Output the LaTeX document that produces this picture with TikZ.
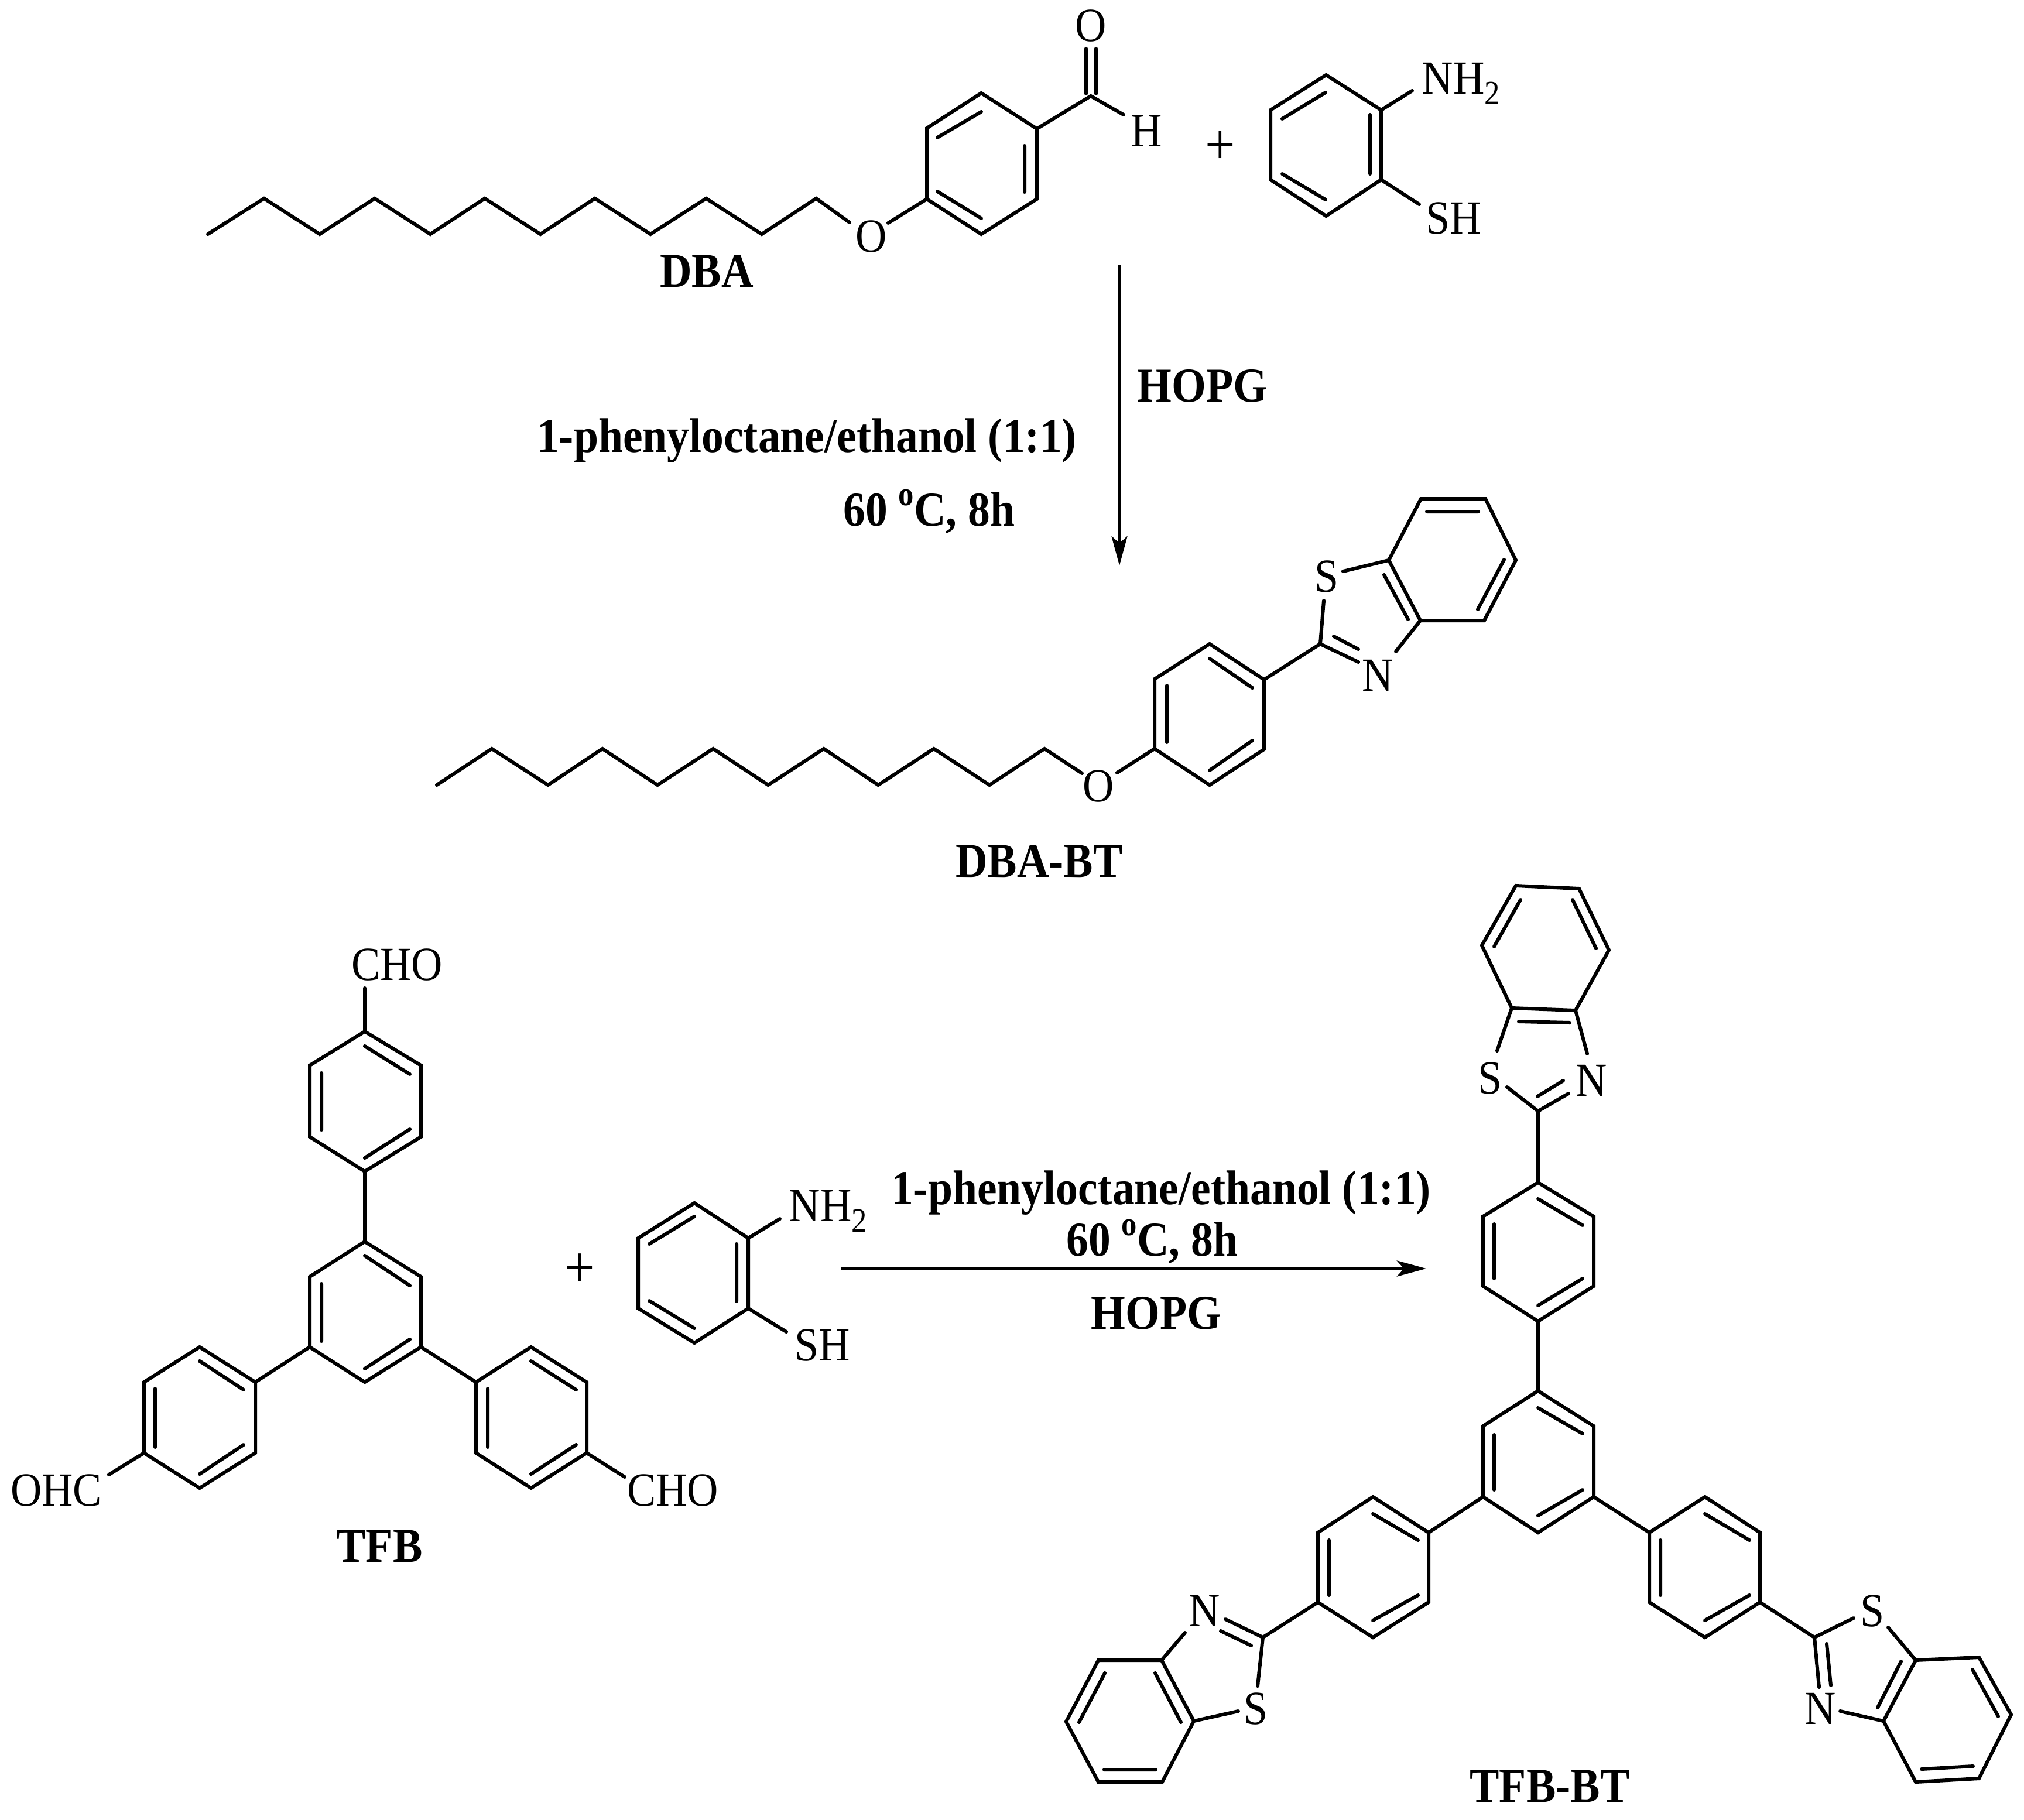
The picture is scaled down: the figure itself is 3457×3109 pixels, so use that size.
\documentclass[tikz,border=0pt]{standalone}
\usepackage{fontspec}
\setmainfont{Liberation Serif}
\usetikzlibrary{arrows.meta}
\tikzset{
  bond/.style={line width=0.06cm,line cap=round,line join=miter},
  reaction/.style={line width=0.055cm,-{Stealth[length=0.5cm,width=0.27cm,inset=0.12cm]}},
  atom/.style={inner sep=0pt,transform shape,yscale=1.1,font=\fontsize{21}{21}\selectfont,text height=13.9pt,text depth=0pt},
  cond/.style={atom,font=\fontsize{21.5}{21.5}\selectfont\bfseries},
  plussign/.style={atom,font=\fontsize{26}{26}\selectfont}
}
\newcommand{\subtwo}{\raisebox{-0.22em}{\fontsize{15}{15}\selectfont 2}}
\newcommand{\supo}{\raisebox{0.42em}{\fontsize{15}{15}\selectfont\bfseries o}}
\begin{document}
\begin{tikzpicture}[x=0.01cm,y=-0.01cm]
\useasboundingbox (0,0) rectangle (3457,3109);

% ---------- DBA
\draw[bond] (355,400) -- (451,339) -- (546,400) -- (640,339) -- (735,400) -- (828,339) -- (923,400) -- (1016,339) -- (1111,400) -- (1206,339) -- (1301,400) -- (1394,339) -- (1451,380);
\node[atom] (oa) at (1488,404) {O};
\draw[bond] (1517,381) -- (1583,340);
\draw[bond] (1583,340) -- (1583,219) -- (1676,159) -- (1771,220) -- (1771,340) -- (1676,400) -- cycle;
\draw[bond] (1601,235) -- (1676,191) (1750,249) -- (1750,328) (1601,327) -- (1676,373);
\draw[bond] (1771,220) -- (1863,164) -- (1919,196);
\draw[bond] (1855,160) -- (1855,83) (1872,160) -- (1872,83);
\node[atom] (oc) at (1863,44) {O};
\node[atom] (hc) at (1958,224) {H};
\node[plussign] (plusa) at (2084,254) {+};
\node[cond] (dba) at (1207,464) {DBA};

% ---------- aminothiophenol 1
\draw[bond] (2359,188) -- (2359,307) -- (2265,369) -- (2170,307) -- (2170,188) -- (2265,128) -- cycle;
\draw[bond] (2340,196) -- (2340,297) (2190,203) -- (2264,158) (2190,297) -- (2264,341);
\draw[bond] (2359,188) -- (2412,155) (2359,307) -- (2424,349);
\node[atom,anchor=west] (nha) at (2428,134) {NH\subtwo};
\node[atom,anchor=west] (sha) at (2435,373) {SH};

% ---------- reaction 1
\coordinate (ra) at (1912,453);
\coordinate (rb) at (1912,966);
\draw[reaction] (ra) -- (rb);
\node[cond] (hopga) at (2054,660) {HOPG};
\node[cond] (solva) at (1378,746) {1-phenyloctane/ethanol (1:1)};
\node[cond] (tempa) at (1587,872) {60 \supo C, 8h};

% ---------- DBA-BT
\draw[bond] (746,1341) -- (840,1279) -- (936,1341) -- (1029,1279) -- (1123,1341) -- (1218,1279) -- (1312,1341) -- (1407,1279) -- (1500,1341) -- (1595,1279) -- (1690,1341) -- (1784,1279) -- (1848,1321);
\node[atom] (ob) at (1876,1343) {O};
\draw[bond] (1908,1320) -- (1972,1279);
\draw[bond] (1972,1279) -- (1972,1160) -- (2066,1100) -- (2159,1161) -- (2159,1280) -- (2066,1341) -- cycle;
\draw[bond] (1993,1171) -- (1993,1268) (2066,1125) -- (2139,1175) (2066,1316) -- (2139,1265);
\draw[bond] (2159,1161) -- (2255,1100) -- (2261,1026);
\draw[bond] (2255,1100) -- (2320,1131) (2278,1087) -- (2320,1109);
\node[atom] (sb) at (2266,985) {S};
\node[atom] (nb) at (2353,1154) {N};
\draw[bond] (2384,1113) -- (2426,1060);
\draw[bond] (2294,976) -- (2372,957);
\draw[bond] (2426,1060) -- (2372,957) -- (2427,852) -- (2537,852) -- (2589,957) -- (2535,1060) -- cycle;
\draw[bond] (2437,874) -- (2525,874) (2569,956) -- (2524,1041) (2364,982) -- (2405,1058);
\node[cond] (dbabt) at (1775,1472) {DBA-BT};

% ---------- TFB
\draw[bond] (623,1688) -- (623,1762);
\node[atom] (cho1) at (678,1648) {CHO};
\draw[bond] (623,1762) -- (719,1820) -- (719,1942) -- (623,2001) -- (529,1942) -- (529,1820) -- cycle;
\draw[bond] (623,1787) -- (700,1835) (549,1833) -- (549,1930) (623,1978) -- (700,1929);
\draw[bond] (623,2001) -- (623,2121);
\draw[bond] (623,2121) -- (719,2181) -- (719,2301) -- (623,2361) -- (529,2301) -- (529,2181) -- cycle;
\draw[bond] (623,2145) -- (700,2196) (549,2193) -- (549,2291) (623,2338) -- (700,2288);
\draw[bond] (529,2301) -- (436,2361) (719,2301) -- (813,2361);
\draw[bond] (436,2361) -- (436,2482) -- (341,2542) -- (246,2482) -- (246,2361) -- (341,2301) -- cycle;
\draw[bond] (341,2325) -- (416,2374) (265,2372) -- (265,2472) (341,2518) -- (416,2468);
\draw[bond] (246,2482) -- (186,2519);
\node[atom] (ohc) at (96,2546) {OHC};
\draw[bond] (813,2361) -- (813,2482) -- (907,2542) -- (1002,2482) -- (1002,2361) -- (907,2301) -- cycle;
\draw[bond] (907,2325) -- (984,2374) (833,2372) -- (833,2472) (907,2518) -- (984,2468);
\draw[bond] (1002,2482) -- (1067,2523);
\node[atom] (cho2) at (1149,2546) {CHO};
\node[cond] (tfb) at (648,2642) {TFB};
\node[plussign] (plusb) at (990,2172) {+};

% ---------- aminothiophenol 2
\draw[bond] (1278,2115) -- (1278,2235) -- (1186,2294) -- (1090,2235) -- (1090,2115) -- (1186,2055) -- cycle;
\draw[bond] (1258,2125) -- (1258,2223) (1109,2125) -- (1186,2078) (1109,2222) -- (1186,2269);
\draw[bond] (1278,2115) -- (1332,2082) (1278,2235) -- (1343,2275);
\node[atom,anchor=west] (nhb) at (1347,2060) {NH\subtwo};
\node[atom,anchor=west] (shb) at (1357,2298) {SH};

% ---------- reaction 2
\coordinate (rc) at (1436,2167);
\coordinate (rd) at (2436,2167);
\draw[reaction] (rc) -- (rd);
\node[cond] (solvb) at (1983,2031) {1-phenyloctane/ethanol (1:1)};
\node[cond] (tempb) at (1968,2119) {60 \supo C, 8h};
\node[cond] (hopgb) at (1975,2244) {HOPG};

% ---------- TFB-BT core
\draw[bond] (2627,2020) -- (2722,2078) -- (2722,2197) -- (2627,2257) -- (2533,2197) -- (2533,2078) -- cycle;
\draw[bond] (2627,2048) -- (2703,2093) (2552,2091) -- (2552,2184) (2627,2230) -- (2703,2184);
\draw[bond] (2627,2257) -- (2627,2376);
\draw[bond] (2627,2376) -- (2722,2436) -- (2722,2557) -- (2627,2618) -- (2533,2557) -- (2533,2436) -- cycle;
\draw[bond] (2627,2405) -- (2703,2449) (2552,2451) -- (2552,2545) (2627,2589) -- (2703,2545);
\draw[bond] (2533,2557) -- (2440,2618) (2722,2557) -- (2817,2618);
% top benzothiazole
\draw[bond] (2627,2020) -- (2627,1898);
\draw[bond] (2627,1898) -- (2574,1857) (2627,1898) -- (2679,1868) (2626,1873) -- (2670,1846);
\node[atom] (st) at (2545,1842) {S};
\node[atom] (nt) at (2718,1846) {N};
\draw[bond] (2557,1795) -- (2582,1722) (2711,1800) -- (2691,1726);
\draw[bond] (2589,1513) -- (2697,1518) -- (2748,1623) -- (2691,1726) -- (2582,1722) -- (2531,1615) -- cycle;
\draw[bond] (2552,1617) -- (2597,1537) (2686,1537) -- (2726,1620) (2594,1745) -- (2681,1747);
% left arm
\draw[bond] (2440,2618) -- (2440,2737) -- (2345,2797) -- (2251,2737) -- (2251,2618) -- (2345,2557) -- cycle;
\draw[bond] (2345,2586) -- (2422,2631) (2270,2631) -- (2270,2725) (2345,2768) -- (2422,2725);
\draw[bond] (2251,2737) -- (2157,2797);
\draw[bond] (2157,2797) -- (2093,2766) (2137,2811) -- (2085,2786) (2157,2797) -- (2148,2880);
\node[atom] (nl) at (2057,2752) {N};
\node[atom] (sl) at (2145,2919) {S};
\draw[bond] (2024,2789) -- (1984,2836) (2039,2940) -- (2115,2923);
\draw[bond] (1984,2836) -- (1876,2836) -- (1821,2941) -- (1876,3044) -- (1985,3044) -- (2039,2940) -- cycle;
\draw[bond] (1973,2858) -- (2017,2942) (1887,2858) -- (1843,2942) (1886,3023) -- (1974,3023);
% right arm
\draw[bond] (2817,2618) -- (2912,2557) -- (3006,2618) -- (3006,2737) -- (2912,2797) -- (2817,2737) -- cycle;
\draw[bond] (2912,2586) -- (2988,2631) (2836,2631) -- (2836,2725) (2912,2768) -- (2988,2725);
\draw[bond] (3006,2737) -- (3099,2797);
\draw[bond] (3099,2797) -- (3166,2764) (3099,2797) -- (3107,2882) (3120,2808) -- (3127,2879);
\node[atom] (sr) at (3198,2752) {S};
\node[atom] (nr) at (3109,2919) {N};
\draw[bond] (3225,2780) -- (3272,2836) (3143,2923) -- (3217,2940);
\draw[bond] (3272,2836) -- (3380,2831) -- (3435,2929) -- (3380,3038) -- (3272,3044) -- (3217,2940) -- cycle;
\draw[bond] (3247,2838) -- (3207,2917) (3369,2852) -- (3413,2932) (3282,3022) -- (3370,3017);
\node[cond] (tfbbt) at (2647,3052) {TFB-BT};
\end{tikzpicture}
\end{document}
